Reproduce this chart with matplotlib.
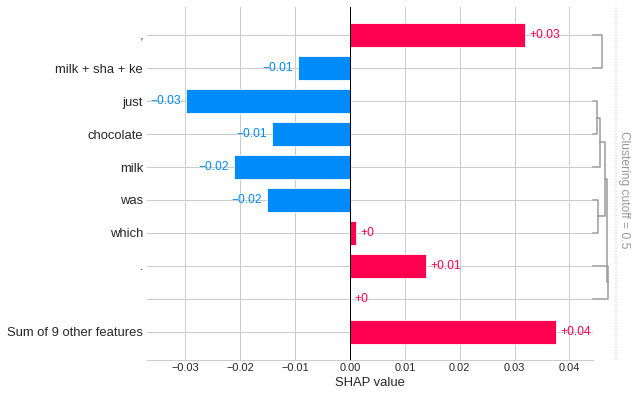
import re
import matplotlib
matplotlib.use("Agg")
import matplotlib.pyplot as plt
from matplotlib.transforms import offset_copy

# ---- data ----
features = [",", "milk + sha + ke", "just", "chocolate", "milk", "was",
            "which", ".", "", "Sum of 9 other features"]
shap_values = [0.0319, -0.0095, -0.0299, -0.0143, -0.0212, -0.0152,
               0.0011, 0.0139, 0.0, 0.0376]
xtick_values = [-0.03, -0.02, -0.01, 0.00, 0.01, 0.02, 0.03, 0.04]

# dendrogram links: (row_a, dist_a, row_b, dist_b, link_dist), distances normalised
link_row_a = [0, 2, 2.5, 5, 3.25, 7, 4.375]
link_dist_a = [0, 0, 0.09, 0, 0.157, 0, 0.27]
link_row_b = [1, 3, 4, 6, 5.5, 8, 7.5]
link_dist_b = [0, 0, 0, 0, 0.11, 0, 0.345]
link_dist = [0.20, 0.09, 0.157, 0.11, 0.27, 0.345, 0.325]
cutoff_norm = 0.516
cutoff_label = "Clustering cutoff = 0.5"

RED = "#ff0051"
BLUE = "#008bfb"

plt.rcParams['font.family'] = ['Liberation Sans', 'DejaVu Sans']
plt.rcParams['text.color'] = '#262626'
plt.rcParams['axes.labelcolor'] = '#262626'
plt.rcParams['xtick.color'] = '#262626'
plt.rcParams['ytick.color'] = '#262626'


def format_value(v, fmt="%+0.02f"):
    s = fmt % v
    s = re.sub(r'\.?0+$', '', s)
    if s[0] == "-":
        s = "\u2212" + s[1:]
    return s


fig = plt.figure(figsize=(635 / 72, 397 / 72), dpi=72)
ax = fig.add_axes([147 / 635, 1 - 360 / 397, (593 - 147) / 635, (360 - 7) / 397])

rows = list(range(len(features)))
colors = [RED if v >= 0 else BLUE for v in shap_values]
ax.barh(rows, shap_values, 0.7, align='center', color=colors,
        edgecolor=(1, 1, 1, 0.8), linewidth=1, zorder=3)

ax.set_xlim(-0.0370, 0.0443)
ax.set_ylim(len(features) - 1 + 0.85, -0.85)

ax.set_yticks(rows)
ax.set_yticklabels(features, fontsize=13)
ax.set_xticks(xtick_values)
ax.tick_params(axis='x', labelsize=11, length=0, pad=3)
ax.tick_params(axis='y', length=0, pad=4)
ax.set_xlabel("SHAP value", fontsize=13, labelpad=4)

ax.grid(True, color='#cccccc', linewidth=1)
ax.set_axisbelow(True)
for s in ['left', 'right', 'top']:
    ax.spines[s].set_visible(False)
ax.spines['bottom'].set_color('#cccccc')
ax.spines['bottom'].set_linewidth(1)

ax.axvline(0, color='black', linewidth=1, zorder=4)

pos_tr = offset_copy(ax.transData, fig=fig, x=4, y=0, units='dots')
neg_tr = offset_copy(ax.transData, fig=fig, x=-5, y=0, units='dots')
for r, v in zip(rows, shap_values):
    lab = format_value(v)
    if v >= 0:
        ax.text(v, r, lab, transform=pos_tr, ha='left', va='center',
                color=RED, fontsize=12, zorder=5)
    else:
        ax.text(v, r, lab, transform=neg_tr, ha='right', va='center',
                color=BLUE, fontsize=12, zorder=5)

# dendrogram to the right of the axes
xmin, xmax = ax.get_xlim()
scale = 0.1 * (xmax - xmin)
for ra, da, rb, db, dl in zip(link_row_a, link_dist_a, link_row_b, link_dist_b, link_dist):
    xs = [xmax + da * scale, xmax + dl * scale, xmax + dl * scale, xmax + db * scale]
    ys = [ra, ra, rb, rb]
    ln, = ax.plot(xs, ys, color='#999999', linewidth=1.5)
    ln.set_clip_on(False)

ct_pos = xmax + cutoff_norm * scale
cl = ax.axvline(ct_pos, color='#dddddd', dashes=(1, 1))
cl.set_clip_on(False)
ax.text(ct_pos + 0.005 * (xmax - xmin), 4.7, cutoff_label, ha='left', va='center',
        rotation=-90, color='#999999', fontsize=12)

fig.savefig("out.png", dpi=72)
